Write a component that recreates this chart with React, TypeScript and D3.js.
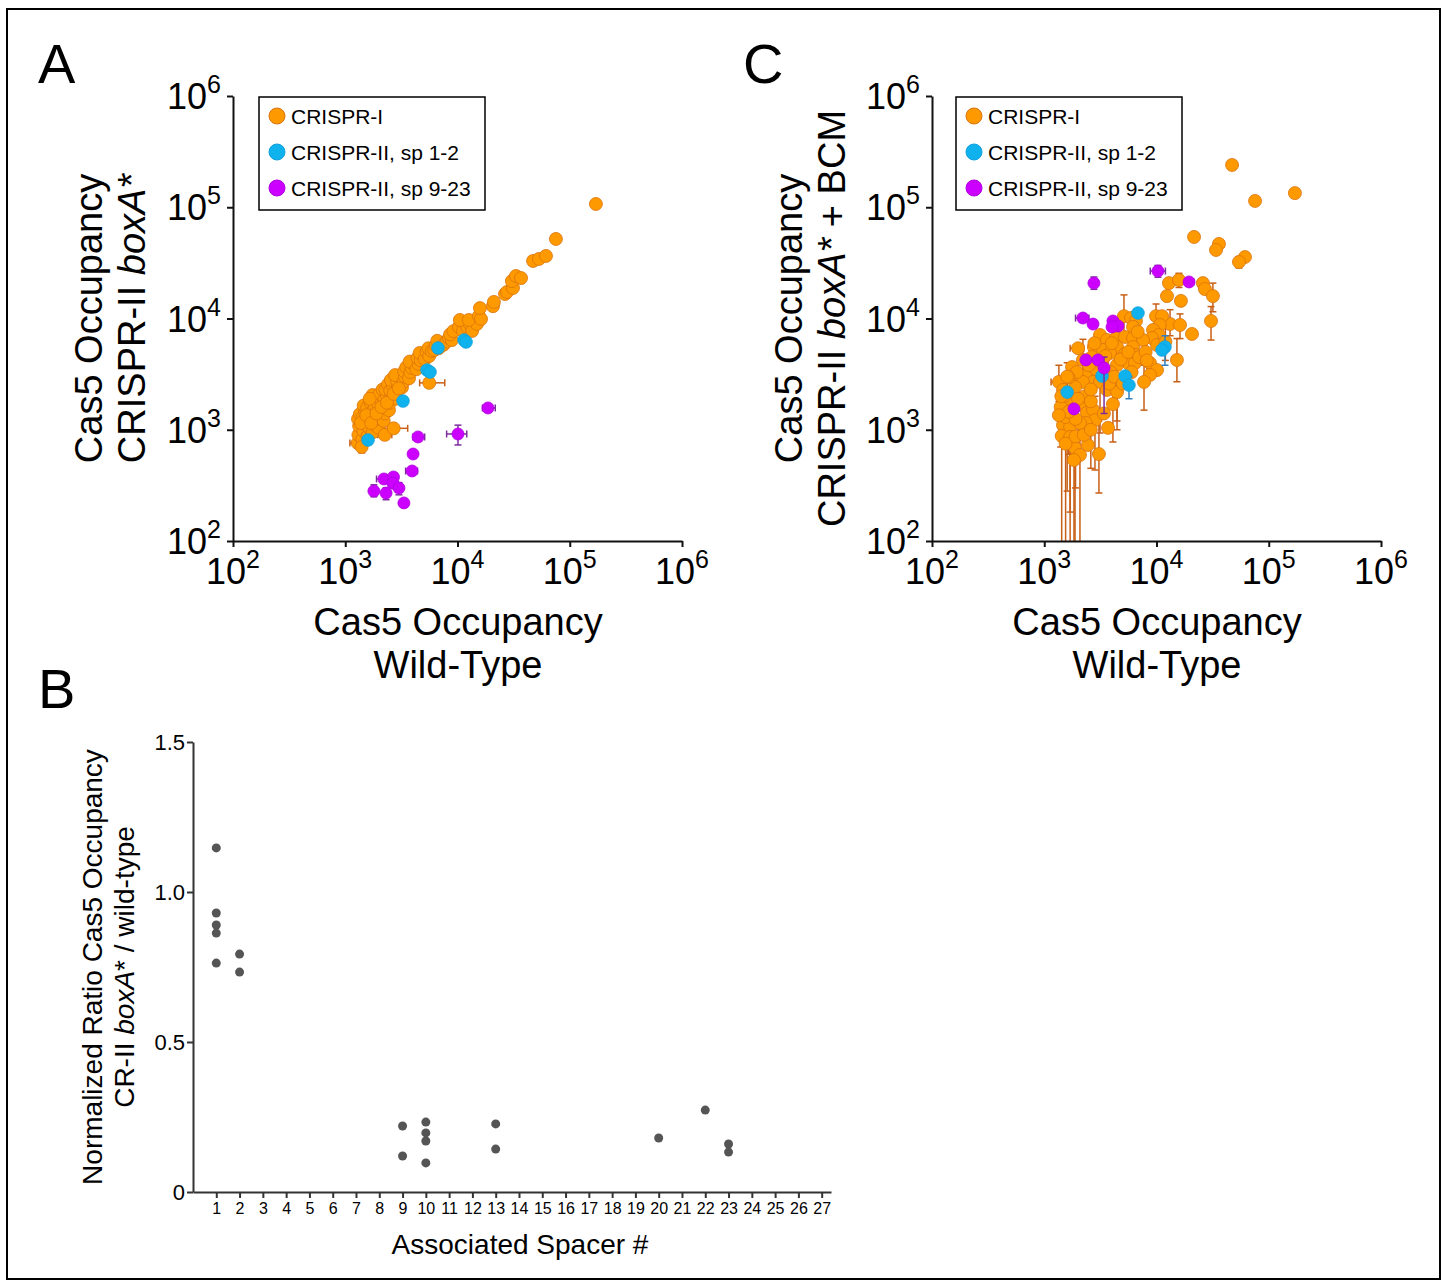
import React, { useEffect, useRef } from 'react';
import * as d3 from 'd3';

// point = [x, y, xLo, xHi, yLo, yHi]  (0 / missing = no error bar)
type Pt = number[];

// ---- panel A : CRISPR-II boxA* vs wild-type ----
const crispr1A: Pt[] = [
  [1290, 760, 1100, 1480], [1310, 900], [1330, 1080], [1300, 1250], [1350, 1380],
  [1420, 820], [1450, 980], [1480, 1150], [1430, 1300], [1500, 1480], [1460, 1650],
  [1580, 870], [1620, 1050], [1600, 1220], [1650, 1400], [1570, 1580, 1420, 1780], [1680, 1750],
  [1760, 950], [1800, 1130], [1850, 1300], [1780, 1500], [1820, 1700], [1880, 1900], [1750, 2050],
  [1950, 1050], [2000, 1250], [2050, 1450], [1980, 1650], [2100, 1850], [2020, 2100], [2150, 2300],
  [2250, 900, 1950, 2600], [2200, 1200], [2250, 1400], [2300, 1600], [2230, 1850], [2350, 2050],
  [2280, 2300], [2400, 2550], [2700, 1030, 2150, 3600], [2450, 1500], [2500, 1750], [2580, 2000],
  [2520, 2250], [2650, 2500], [2550, 2800], [2800, 1900], [2850, 2200], [2950, 2450], [2900, 2750],
  [3050, 3000], [2780, 3100], [3200, 2400], [3300, 2700], [3400, 3000], [3350, 3350], [3500, 3650],
  [3700, 2900], [3800, 3300], [3900, 3600], [4000, 3950], [3750, 4100], [4300, 3500], [4500, 3900],
  [4400, 4400], [4700, 4200], [4900, 4700], [4600, 4900], [5600, 2640, 4600, 7700], [5100, 4300],
  [5300, 5000], [5600, 4600], [5500, 5400], [5900, 5100], [6200, 5200], [6400, 5700], [6800, 5400],
  [7100, 6000], [6600, 6300], [7500, 5800], [8000, 6200], [8400, 6700], [8900, 6400], [8600, 7200],
  [9200, 7700], [10300, 8400], [11200, 7730], [12200, 8400], [12900, 8930], [13500, 7730],
  [14900, 8930], [10500, 9700], [12600, 9700], [15500, 10500], [16200, 9890], [15850, 12400],
  [20700, 12900], [21100, 14100], [26500, 16600], [27600, 17300], [31200, 18800], [30500, 21700],
  [33200, 24100], [36800, 23100, 34000, 40000], [47100, 32900], [53200, 34300], [61400, 36500],
  [75300, 51900], [171000, 107000],
  [1380, 1150], [1540, 1350], [1700, 1150], [1900, 1400], [2100, 1600], [1650, 1900], [2350, 1750],
  [2700, 2100], [3000, 2350], [1400, 700, 0, 0, 620, 780],
];
const crispr2EarlyA: Pt[] = [
  [1596, 809, 1450, 1700], [3270, 1811], [5350, 3440], [5690, 3300], [6700, 5430],
  [11430, 6410], [11920, 6150, 11000, 13000],
];
const crispr2LateA: Pt[] = [
  [18700, 1570, 16700, 21700], [10100, 916, 8000, 12100, 730, 1100], [4450, 861, 4000, 5100],
  [4020, 605], [3940, 426, 3450, 4400], [2210, 361, 1900, 2450], [2690, 376], [2660, 331],
  [1800, 281, 0, 0, 250, 320], [2310, 270, 0, 0, 235, 300], [3010, 299, 0, 0, 260, 335], [3330, 220],
];

// ---- panel C : CRISPR-II boxA* + BCM vs wild-type ----
const crispr1C: Pt[] = [
  [47100, 240000], [171000, 134000], [75500, 114000], [21600, 54100], [36000, 46800, 33000, 40000],
  [33900, 41300], [61400, 35700], [54300, 32200, 0, 0, 28500, 36000],
  [12900, 20800], [15850, 22200, 0, 0, 19000, 25500], [12400, 15900], [16500, 14400], [25900, 20800],
  [27000, 18400], [31800, 15900, 0, 0, 11500, 20800], [30600, 9500, 0, 0, 6400, 12800], [20700, 7260],
  [15200, 4240, 0, 0, 2700, 6600], [13200, 8930, 0, 0, 7000, 12000], [16200, 8750, 0, 0, 6600, 11000],
  [5130, 10500, 0, 0, 6800, 16300], [5930, 10100], [6560, 9500], [6180, 8400],
  [9910, 10500, 0, 0, 8000, 13500], [11200, 10500], [10700, 8750], [9310, 7890], [10500, 7110],
  [9120, 6680], [10100, 5780], [3140, 7110], [3620, 6410], [4360, 6680], [5240, 6820], [6180, 6680],
  [7580, 6410], [2770, 5540], [3340, 5210], [4450, 5540], [5240, 4800], [6180, 5540], [6560, 4700],
  [5570, 3980], [6430, 3980], [4450, 3820, 0, 0, 1200, 7600], [3850, 4900], [8750, 3980], [10100, 3440],
  [8750, 3110], [7740, 2690, 0, 0, 1500, 3800], [2660, 4510], [2210, 4240, 0, 0, 3100, 6500],
  [1770, 3660], [2080, 2980], [2400, 3110], [2720, 2690], [2210, 2690], [1880, 2420],
  [3140, 2690, 0, 0, 935, 4000], [3620, 2280], [4450, 2180, 0, 0, 1000, 3000],
  [4090, 1700, 0, 0, 776, 2600], [3700, 1040], [1350, 2690, 1150, 1480, 1800, 3800], [1470, 2280],
  [1600, 1850, 0, 0, 281, 3300], [1740, 1510], [2150, 1670], [2400, 1420], [2720, 1510],
  [2830, 1220, 0, 0, 435, 2000], [2350, 1150], [1470, 1100], [1700, 1060, 0, 0, 182, 2100],
  [2080, 1150], [1430, 880, 0, 0, 10, 1900], [1700, 861, 0, 0, 10, 1600], [1880, 685, 0, 0, 10, 1300],
  [2450, 729], [2080, 593, 0, 0, 10, 1100], [1840, 535, 0, 0, 10, 900], [3070, 605, 0, 0, 270, 1200],
  [2900, 3500], [3300, 3900], [3900, 3300], [4800, 4300], [5600, 5000], [4000, 6000], [3500, 4600],
  [2500, 3800], [1950, 3300, 1700, 2300], [2300, 2000], [2600, 1800], [3400, 1400], [1550, 1300],
  [1900, 1250], [3800, 2600], [4200, 3000], [5000, 2600], [6000, 3300], [7000, 4500], [8000, 5000],
  [1500, 2000], [1650, 2950], [2800, 6000], [2000, 5400, 1700, 2250],
  [1400, 1600, 0, 0, 700, 2600], [1550, 750, 0, 0, 10, 1400], [1650, 1450, 0, 0, 600, 2400],
  [2000, 1900, 0, 0, 900, 3200], [2600, 2300, 0, 0, 1300, 3400], [1350, 1350], [1420, 2000],
  [1900, 870, 0, 0, 300, 1500], [2250, 900], [2600, 1000, 0, 0, 450, 1700],
  [1600, 3000, 0, 0, 2200, 4000], [6800, 7600, 0, 0, 5000, 11000], [8200, 4200, 0, 0, 2600, 6500],
  [12000, 6200, 0, 0, 4200, 8200],
];
const crispr2EarlyC: Pt[] = [
  [6840, 11200], [11900, 5540, 0, 0, 3800, 7000], [11200, 5210], [3270, 3040], [5250, 3040],
  [5690, 2520, 0, 0, 1900, 3000], [1600, 2180],
];
const crispr2LateC: Pt[] = [
  [10300, 26700, 8800, 12000, 23500, 30000], [2770, 20800, 0, 0, 18300, 23600],
  [19500, 21300, 18000, 21500], [2210, 10100, 1900, 2500], [2720, 8910], [4090, 9500], [4540, 8570],
  [4020, 8400, 3700, 4400], [2350, 4240], [3010, 4240], [3410, 3590, 0, 0, 1400, 4500], [1840, 1540],
];

const logTicks = [2, 3, 4, 5, 6];
const legendLabels = ['CRISPR-I', 'CRISPR-II, sp 1-2', 'CRISPR-II, sp 9-23'];

// ---- panel B : ratio per spacer ----
const spacerNum = [1, 1, 1, 1, 1, 2, 2, 9, 9, 10, 10, 10, 10, 13, 13, 20, 22, 23, 23];
const ratio = [1.147, 0.93, 0.89, 0.863, 0.763, 0.793, 0.733, 0.22, 0.12, 0.233, 0.197, 0.17, 0.097,
  0.227, 0.143, 0.18, 0.273, 0.16, 0.133];
const ratioTicks = [0, 0.5, 1.0, 1.5];
const spacerTicks = d3.range(1, 28);

const FONT = "'Liberation Sans', Arial, Helvetica, sans-serif";
const colors = [
  { fill: '#ff9900', stroke: '#d9730d', bar: '#c95f16', r: 6.5 },
  { fill: '#10b2ee', stroke: '#10a0da', bar: '#2f7fc1', r: 6.3 },
  { fill: '#cc00ff', stroke: '#b000e0', bar: '#7b2d9b', r: 6 },
];

function drawLogPanel(root, x0, sets: Pt[][], yTitle: (string | [string, boolean])[][], titleX: number[], legendX) {
  const x = d3.scaleLog().domain([1e2, 1e6]).range([x0, x0 + 449]);
  const y = d3.scaleLog().domain([1e2, 1e6]).range([541, 96]);
  const xc = x.copy().clamp(true);
  const yc = y.copy().clamp(true);
  const g = root.append('g');

  sets.forEach((data, i) => {
    const c = colors[i];
    const bars = g.append('g').attr('stroke', c.bar).attr('stroke-width', 1.5).attr('fill', 'none');
    data.forEach(d => {
      const cx = x(d[0]), cy = y(d[1]);
      if (d[2]) {
        const ends = [xc(d[2]), xc(d[3])];
        bars.append('line').attr('x1', ends[0]).attr('x2', ends[1]).attr('y1', cy).attr('y2', cy);
        ends.forEach(v => bars.append('line').attr('x1', v).attr('x2', v).attr('y1', cy - 3.5).attr('y2', cy + 3.5));
      }
      if (d[4]) {
        const ends = [yc(d[4]), yc(d[5])];
        bars.append('line').attr('x1', cx).attr('x2', cx).attr('y1', ends[0]).attr('y2', ends[1]);
        ends.forEach(v => {
          if (v < 540) bars.append('line').attr('x1', cx - 3.5).attr('x2', cx + 3.5).attr('y1', v).attr('y2', v);
        });
      }
    });
    g.append('g').selectAll('circle').data(data).join('circle')
      .attr('cx', d => x(d[0])).attr('cy', d => y(d[1])).attr('r', c.r)
      .attr('fill', c.fill).attr('stroke', c.stroke).attr('stroke-width', 0.8);
  });

  // axes
  const xAxis = g.append('g').attr('transform', 'translate(0,541)')
    .call(d3.axisBottom(x).tickValues(logTicks.map(e => 10 ** e)).tickSize(6).tickSizeOuter(0).tickFormat(() => ''));
  const yAxis = g.append('g').attr('transform', `translate(${x0},0)`)
    .call(d3.axisLeft(y).tickValues(logTicks.map(e => 10 ** e)).tickSize(6).tickSizeOuter(0).tickFormat(() => ''));
  [xAxis, yAxis].forEach(a => {
    a.select('.domain').attr('stroke', '#111').attr('stroke-width', 2);
    a.selectAll('.tick line').attr('stroke', '#111').attr('stroke-width', 2);
  });

  logTicks.forEach(e => {
    const tx = g.append('text').attr('x', x(10 ** e)).attr('y', 584).attr('text-anchor', 'middle')
      .attr('font-family', FONT).attr('font-size', 36).attr('fill', '#000');
    tx.append('tspan').text('10');
    tx.append('tspan').attr('dy', -16).attr('font-size', 25).text(e);
    const ty = g.append('text').attr('x', x0 - 12).attr('y', y(10 ** e) + 13).attr('text-anchor', 'end')
      .attr('font-family', FONT).attr('font-size', 36).attr('fill', '#000');
    ty.append('tspan').text('10');
    ty.append('tspan').attr('dy', -16).attr('font-size', 25).text(e);
  });

  // x title
  ['Cas5 Occupancy', 'Wild-Type'].forEach((t, i) => {
    g.append('text').attr('x', x0 + 225).attr('y', 635 + i * 43).attr('text-anchor', 'middle')
      .attr('font-family', FONT).attr('font-size', 38).text(t);
  });
  // y title
  yTitle.forEach((parts, i) => {
    const t = g.append('text').attr('transform', `translate(${titleX[i]},318.5) rotate(-90)`)
      .attr('text-anchor', 'middle').attr('font-family', FONT).attr('font-size', 38);
    parts.forEach(p => {
      if (typeof p === 'string') t.append('tspan').text(p);
      else t.append('tspan').attr('font-style', p[1] ? 'italic' : 'normal').text(p[0]);
    });
  });

  // legend
  const lg = g.append('g').attr('transform', `translate(${legendX},97)`);
  lg.append('rect').attr('width', 226).attr('height', 113).attr('fill', '#fff')
    .attr('stroke', '#000').attr('stroke-width', 1.5);
  legendLabels.forEach((lab, i) => {
    lg.append('circle').attr('cx', 18).attr('cy', 19 + i * 36).attr('r', 8)
      .attr('fill', colors[i].fill).attr('stroke', colors[i].stroke).attr('stroke-width', 1);
    lg.append('text').attr('x', 32).attr('y', 19 + i * 36 + 7.5).attr('font-family', FONT)
      .attr('font-size', 21).text(lab);
  });
}

function drawRatioPanel(root) {
  const x = d3.scaleLinear().domain([0, 27.4]).range([193, 831]);
  const y = d3.scaleLinear().domain([0, 1.5]).range([1192, 742]);
  const g = root.append('g');

  const xAxis = g.append('g').attr('transform', 'translate(0,1192)')
    .call(d3.axisBottom(x).tickValues(spacerTicks).tickSize(6).tickSizeOuter(0).tickPadding(5));
  const yAxis = g.append('g').attr('transform', 'translate(193,0)')
    .call(d3.axisLeft(y).tickValues(ratioTicks).tickSize(6).tickSizeOuter(0).tickPadding(2)
      .tickFormat(d => (d === 0 ? '0' : d3.format('.1f')(d))));
  [xAxis, yAxis].forEach(a => {
    a.attr('font-family', FONT);
    a.select('.domain').attr('stroke', '#333').attr('stroke-width', 2);
    a.selectAll('.tick line').attr('stroke', '#333').attr('stroke-width', 2);
    a.selectAll('.tick text').attr('fill', '#000');
  });
  xAxis.attr('font-size', 16);
  yAxis.attr('font-size', 22);

  g.append('g').selectAll('circle').data(spacerNum).join('circle')
    .attr('cx', d => x(d)).attr('cy', (d, i) => y(ratio[i])).attr('r', 4.5).attr('fill', '#555');

  g.append('text').attr('x', 520).attr('y', 1254).attr('text-anchor', 'middle')
    .attr('font-family', FONT).attr('font-size', 28).text('Associated Spacer #');
  const t1 = g.append('text').attr('transform', 'translate(102,967) rotate(-90)')
    .attr('text-anchor', 'middle').attr('font-family', FONT).attr('font-size', 28);
  t1.text('Normalized Ratio Cas5 Occupancy');
  const t2 = g.append('text').attr('transform', 'translate(134,967) rotate(-90)')
    .attr('text-anchor', 'middle').attr('font-family', FONT).attr('font-size', 28);
  t2.append('tspan').text('CR-II ');
  t2.append('tspan').attr('font-style', 'italic').text('boxA');
  t2.append('tspan').text('* / wild-type');
}

export default function App() {
  const ref = useRef<SVGSVGElement>(null);

  useEffect(() => {
    const svg = d3.select(ref.current);
    svg.selectAll('*').remove();

    svg.append('rect').attr('x', 7).attr('y', 9).attr('width', 1433).attr('height', 1270)
      .attr('fill', '#fff').attr('stroke', '#000').attr('stroke-width', 2);

    drawLogPanel(svg, 233, [crispr1A, crispr2EarlyA, crispr2LateA],
      [['Cas5 Occupancy'], ['CRISPR-II ', ['boxA*', true]]], [102, 145], 259);
    drawLogPanel(svg, 932, [crispr1C, crispr2EarlyC, crispr2LateC],
      [['Cas5 Occupancy'], ['CRISPR-II ', ['boxA*', true], ' + BCM']], [802, 845], 956);
    drawRatioPanel(svg);

    // panel letters
    [['A', 38, 83], ['C', 743, 83], ['B', 38, 708]].forEach(([t, px, py]) => {
      svg.append('text').attr('x', px).attr('y', py).attr('font-family', FONT)
        .attr('font-size', 56).text(t as string);
    });
  }, []);

  return (
    <svg ref={ref} width={1445} height={1282}
      style={{ position: 'absolute', left: 0, top: 0, background: '#fff' }} />
  );
}
